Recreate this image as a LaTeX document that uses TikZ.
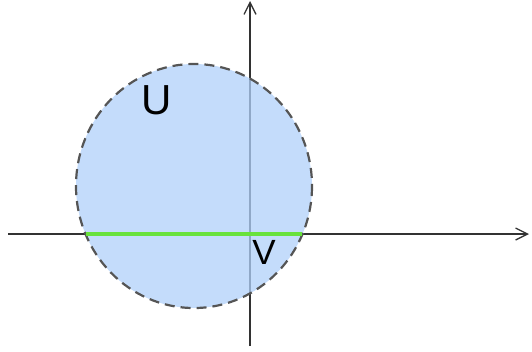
\documentclass[tikz,border=0pt]{standalone}
\usepackage{fontspec}
\setmainfont{Liberation Sans}
\usetikzlibrary{arrows.meta}
\definecolor{diskC} {RGB}{176, 208, 250}
\definecolor{chordC}{RGB}{104, 226,  60}
\definecolor{axisC} {RGB}{ 50,  50,  50}
\definecolor{rimC}  {RGB}{ 85,  85,  85}
\tikzset{
  axis/.style   = {-{Straight Barb[length=12pt, width=12pt]}, line width=1.3pt,
                   color=axisC},
  disk/.style   = {fill=diskC, fill opacity=0.75, draw=rimC,
                   dash pattern=on 10pt off 6pt, line width=2.2pt},
  chord/.style  = {line width=3.6pt, color=chordC},
  setlbl/.style = {inner sep=0pt, text=black},
}

\begin{document}
\begin{tikzpicture}[x=1pt, y=-1pt]

\useasboundingbox (0,0) rectangle (532,351);

% axes
\coordinate (xl) at (8,234);
\coordinate (xr) at (529,234);
\coordinate (yb) at (250,346);
\coordinate (yt) at (250,1);
\draw[axis] (xl) -- (xr);
\draw[axis] (yb) -- (yt);

% open set U
\coordinate (c) at (194,186);
\draw[disk] (c) ellipse [x radius=118, y radius=122];

% V = U on the horizontal axis
\coordinate (vl) at (86,234);
\coordinate (vr) at (302,234);
\draw[chord] (vl) -- (vr);

% labels
\node[setlbl, font=\fontsize{42}{42}\selectfont] (U) at (157,100) {U};
\node[setlbl, font=\fontsize{35}{35}\selectfont] (V) at (264,252) {V};

\end{tikzpicture}
\end{document}
